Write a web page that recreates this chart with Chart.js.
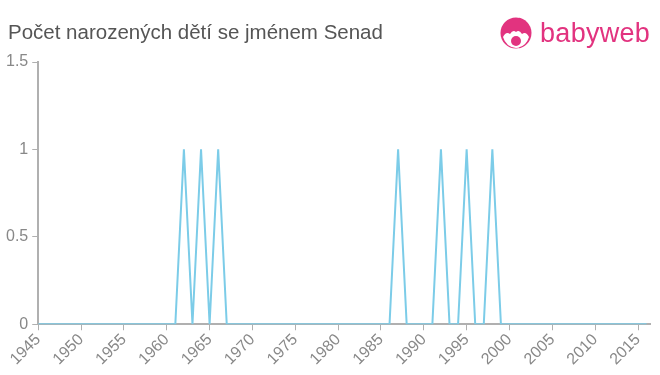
<!DOCTYPE html>
<html>
<head>
<meta charset="utf-8">
<script src="https://cdn.jsdelivr.net/npm/chart.js@4"></script>
<style>
  body { margin: 0; background: #fff; font-family: "Liberation Sans", Arial, sans-serif; }
  #wrap { position: relative; width: 660px; height: 375px; }
  #title { position: absolute; left: 8px; top: 20px; font-size: 20.5px; color: #555; }
  #logo { position: absolute; left: 500px; top: 16px; height: 34px; display: flex; align-items: center; }
  #logo span { color: #e2337f; font-size: 27px; margin-left: 8px; letter-spacing: 0.3px; }
  canvas { position: absolute; left: 0; top: 0; }
</style>
</head>
<body>
<div id="wrap">
  <canvas id="chart" width="660" height="375"></canvas>
  <div id="title">Počet narozených dětí se jménem Senad</div>
  <div id="logo">
    <svg width="32" height="32" viewBox="0 0 32 32">
      <circle cx="16" cy="16" r="15.5" fill="#e2337f"/>
      <path d="M3 20 Q6 14 10 17 Q13 12 16 15 Q19 12 22 17 Q26 14 29 20 Q26 30 16 31 Q6 30 3 20 Z" fill="#fff"/>
      <circle cx="16" cy="24" r="5" fill="#e2337f"/>
    </svg>
    <span>babyweb</span>
  </div>
</div>
<script>
const years  = [1945, 1961, 1962, 1963, 1964, 1965, 1966, 1967, 1986, 1987, 1988, 1991, 1992, 1993, 1994, 1995, 1996, 1997, 1998, 1999, 2016];
const counts = [0,    0,    1,    0,    1,    0,    1,    0,    0,    1,    0,    0,    1,    0,    0,    1,    0,    0,    1,    0,    0];
const yTicks = [0, 0.5, 1, 1.5];
const xTicks = [1945, 1950, 1955, 1960, 1965, 1970, 1975, 1980, 1985, 1990, 1995, 2000, 2005, 2010, 2015];

const points = years.map((y, i) => ({ x: y, y: counts[i] }));
const tickFont = { size: 16, family: '"Liberation Sans", Arial, sans-serif' };

new Chart(document.getElementById('chart'), {
  type: 'line',
  data: {
    datasets: [{
      data: points,
      borderColor: '#7ccce8',
      borderWidth: 2,
      pointRadius: 0,
      tension: 0,
      fill: false
    }]
  },
  options: {
    responsive: false,
    animation: false,
    layout: { padding: { top: 62, right: 10, left: 2, bottom: 6 } },
    plugins: { legend: { display: false }, tooltip: { enabled: false } },
    scales: {
      x: {
        type: 'linear',
        min: 1945,
        max: 2016.4,
        afterBuildTicks: axis => { axis.ticks = xTicks.map(v => ({ value: v })); },
        ticks: {
          color: '#888',
          font: tickFont,
          maxRotation: 45,
          minRotation: 45,
          autoSkip: false,
          callback: v => String(v),
          padding: 0
        },
        grid: { drawOnChartArea: false, color: '#b0b0b0', tickLength: 6, lineWidth: 1 },
        border: { color: '#b0b0b0', width: 2 }
      },
      y: {
        min: 0,
        max: 1.5,
        afterBuildTicks: axis => { axis.ticks = yTicks.map(v => ({ value: v })); },
        ticks: {
          color: '#888',
          font: tickFont,
          padding: 4,
          callback: v => String(v)
        },
        grid: { drawOnChartArea: false, color: '#b0b0b0', tickLength: 6 },
        border: { color: '#b0b0b0', width: 2 }
      }
    }
  }
});
</script>
</body>
</html>
